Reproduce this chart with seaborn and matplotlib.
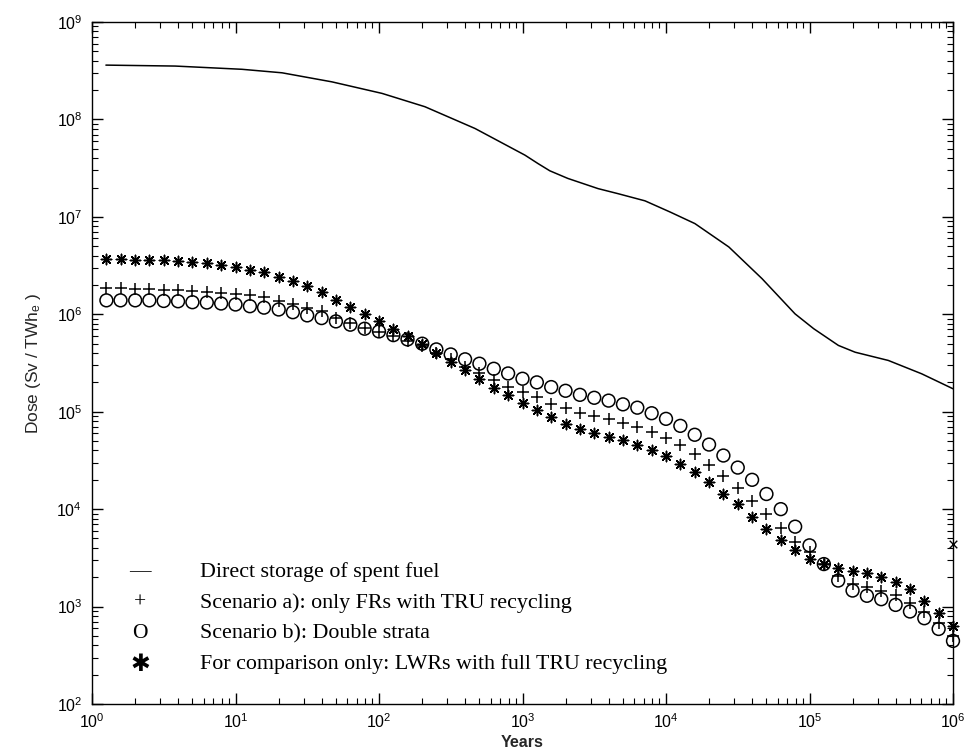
import matplotlib
matplotlib.use("Agg")
import matplotlib.pyplot as plt
import seaborn as sns
from matplotlib.ticker import LogLocator, LogFormatterSciNotation, NullFormatter

# Sampling times (years), ten per decade
years = [
    1.26, 1.58, 2.00, 2.51, 3.16, 3.98, 5.01, 6.31, 7.94, 10.0,
    12.6, 15.8, 20.0, 25.1, 31.6, 39.8, 50.1, 63.1, 79.4, 100,
    126, 158, 200, 251, 316, 398, 501, 631, 794, 1000,
    1259, 1585, 1995, 2512, 3162, 3981, 5012, 6310, 7943, 10000,
    12589, 15849, 19953, 25119, 31623, 39811, 50119, 63096, 79433, 100000,
    125893, 158489, 199526, 251189, 316228, 398107, 501187, 630957, 794328, 1000000,
]

# Scenario a): only FRs with TRU recycling
dose_fr_only = [
    1.86e6, 1.86e6, 1.83e6, 1.83e6, 1.79e6, 1.76e6, 1.73e6, 1.69e6, 1.65e6, 1.63e6,
    1.56e6, 1.50e6, 1.37e6, 1.29e6, 1.16e6, 1.07e6, 9.08e5, 8.12e5, 7.29e5, 6.57e5,
    6.00e5, 5.27e5, 4.68e5, 3.96e5, 3.50e5, 2.87e5, 2.47e5, 2.12e5, 1.80e5, 1.61e5,
    1.41e5, 1.21e5, 1.10e5, 9.81e4, 9.14e4, 8.45e4, 7.74e4, 6.99e4, 6.16e4, 5.43e4,
    4.55e4, 3.66e4, 2.85e4, 2.19e4, 1.64e4, 1.20e4, 8.84e3, 6.38e3, 4.56e3, 3.60e3,
    2.73e3, 2.07e3, 1.70e3, 1.57e3, 1.44e3, 1.32e3, 1.09e3, 874, 682, 501,
]

# Scenario b): double strata
dose_double_strata = [
    1.39e6, 1.39e6, 1.39e6, 1.39e6, 1.37e6, 1.36e6, 1.33e6, 1.32e6, 1.29e6, 1.26e6,
    1.21e6, 1.17e6, 1.12e6, 1.05e6, 9.74e5, 9.14e5, 8.45e5, 7.82e5, 7.11e5, 6.67e5,
    6.11e5, 5.52e5, 4.99e5, 4.36e5, 3.87e5, 3.45e5, 3.11e5, 2.76e5, 2.47e5, 2.18e5,
    2.00e5, 1.79e5, 1.64e5, 1.49e5, 1.39e5, 1.30e5, 1.19e5, 1.10e5, 9.65e4, 8.45e4,
    7.16e4, 5.80e4, 4.60e4, 3.55e4, 2.67e4, 2.00e4, 1.43e4, 1.00e4, 6.61e3, 4.25e3,
    2.73e3, 1.85e3, 1.46e3, 1.29e3, 1.19e3, 1.04e3, 890, 759, 589, 444,
]

# LWRs with full TRU recycling (comparison)
dose_lwr_full = [
    3.73e6, 3.73e6, 3.64e6, 3.64e6, 3.58e6, 3.52e6, 3.44e6, 3.36e6, 3.23e6, 3.08e6,
    2.87e6, 2.70e6, 2.43e6, 2.19e6, 1.94e6, 1.68e6, 1.41e6, 1.20e6, 1.01e6, 8.55e5,
    7.11e5, 5.93e5, 4.99e5, 3.99e5, 3.23e5, 2.65e5, 2.15e5, 1.77e5, 1.48e5, 1.24e5,
    1.05e5, 8.86e4, 7.56e4, 6.67e4, 6.04e4, 5.56e4, 5.10e4, 4.60e4, 4.06e4, 3.51e4,
    2.94e4, 2.39e4, 1.89e4, 1.44e4, 1.13e4, 8.24e3, 6.26e3, 4.83e3, 3.81e3, 3.08e3,
    2.73e3, 2.49e3, 2.33e3, 2.21e3, 1.99e3, 1.77e3, 1.51e3, 1.15e3, 858, 635,
]

# Direct storage of spent fuel
direct_years = [
    1.25, 3.8, 11.1, 21.1, 47, 105, 209, 467, 1040, 1280, 1550, 2070, 3360, 4630,
    7140, 10700, 15900, 27400, 46700, 79300, 107000, 159000, 208000, 354000,
    605000, 1000000,
]
direct_dose = [
    3.61e8, 3.53e8, 3.27e8, 3.01e8, 2.43e8, 1.85e8, 1.35e8, 8.07e7, 4.30e7,
    3.53e7, 2.97e7, 2.48e7, 1.95e7, 1.73e7, 1.46e7, 1.12e7, 8.53e6, 4.91e6, 2.32e6,
    1.01e6, 7.11e5, 4.79e5, 4.08e5, 3.36e5, 2.45e5, 1.72e5,
]

# Single extra point on the right edge
extra_year = [1.0e6]
extra_dose = [4.39e3]

legend_symbols = ["\u2014", "+", "O", "\u2731"]
legend_labels = [
    "Direct storage of spent fuel",
    "Scenario a): only FRs with TRU recycling",
    "Scenario b): Double strata",
    "For comparison only: LWRs with full TRU recycling",
]

sns.set_theme(style="ticks")
plt.rcParams["font.family"] = ["Liberation Sans", "DejaVu Sans"]
plt.rcParams["mathtext.default"] = "regular"

W, H = 966, 752
fig = plt.figure(figsize=(W / 100, H / 100), dpi=100)
fig.patch.set_facecolor("white")
left, right, top, bottom = 92, 953, 22, 704
ax = fig.add_axes([left / W, 1 - bottom / H, (right - left) / W, (bottom - top) / H])
ax.set_facecolor("white")

sns.lineplot(x=direct_years, y=direct_dose, ax=ax, color="black", linewidth=1.1,
             estimator=None, sort=False)
sns.scatterplot(x=years, y=dose_double_strata, ax=ax, marker="o", s=85,
                facecolor="none", edgecolor="black", linewidth=1.1, zorder=3,
                clip_on=False)
sns.scatterplot(x=years, y=dose_fr_only, ax=ax, marker="+", s=75,
                color="black", linewidth=1.1, zorder=3, clip_on=False)
sns.scatterplot(x=years, y=dose_lwr_full, ax=ax, marker=(8, 2, 0), s=55,
                color="black", linewidth=1.1, zorder=3, clip_on=False)
sns.scatterplot(x=extra_year, y=extra_dose, ax=ax, marker="x", s=30,
                color="black", linewidth=1.0, zorder=3, clip_on=False)

ax.set_xscale("log")
ax.set_yscale("log")
ax.set_xlim(1, 1e6)
ax.set_ylim(1e2, 1e9)

for axis in (ax.xaxis, ax.yaxis):
    axis.set_major_locator(LogLocator(base=10, numticks=20))
    axis.set_minor_locator(LogLocator(base=10, subs=range(2, 10), numticks=100))
    axis.set_major_formatter(LogFormatterSciNotation())
    axis.set_minor_formatter(NullFormatter())

ax.tick_params(which="both", direction="in", top=True, right=True, colors="black",
               labelsize=11.5)
ax.tick_params(which="major", length=8, width=1.0)
ax.tick_params(which="minor", length=4, width=0.8)
ax.tick_params(axis="x", pad=6)
ax.tick_params(axis="y", pad=7)
for sp in ax.spines.values():
    sp.set_color("black")
    sp.set_linewidth(1.0)

ax.set_xlabel("Years", fontsize=11.5, fontweight="bold", labelpad=3)
ax.set_ylabel("Dose (Sv / TWh$_{e}$ )", fontsize=12.5, labelpad=10)

rows = [572, 603, 634, 664]
for sym, lab, ypx in zip(legend_symbols, legend_labels, rows):
    yf = 1 - ypx / H
    if sym == "\u2731":
        fig.text(140 / W, yf, sym, ha="center", va="center", fontsize=17,
                 family=["DejaVu Sans"], color="black")
    else:
        fig.text(140 / W, yf, sym, ha="center", va="center", fontsize=15.5,
                 family=["Liberation Serif"], color="black")
    fig.text(200 / W, yf, lab, ha="left", va="center", fontsize=15.8,
             family=["Liberation Serif"], color="black")

fig.savefig("out.png", dpi=100, facecolor="white")
